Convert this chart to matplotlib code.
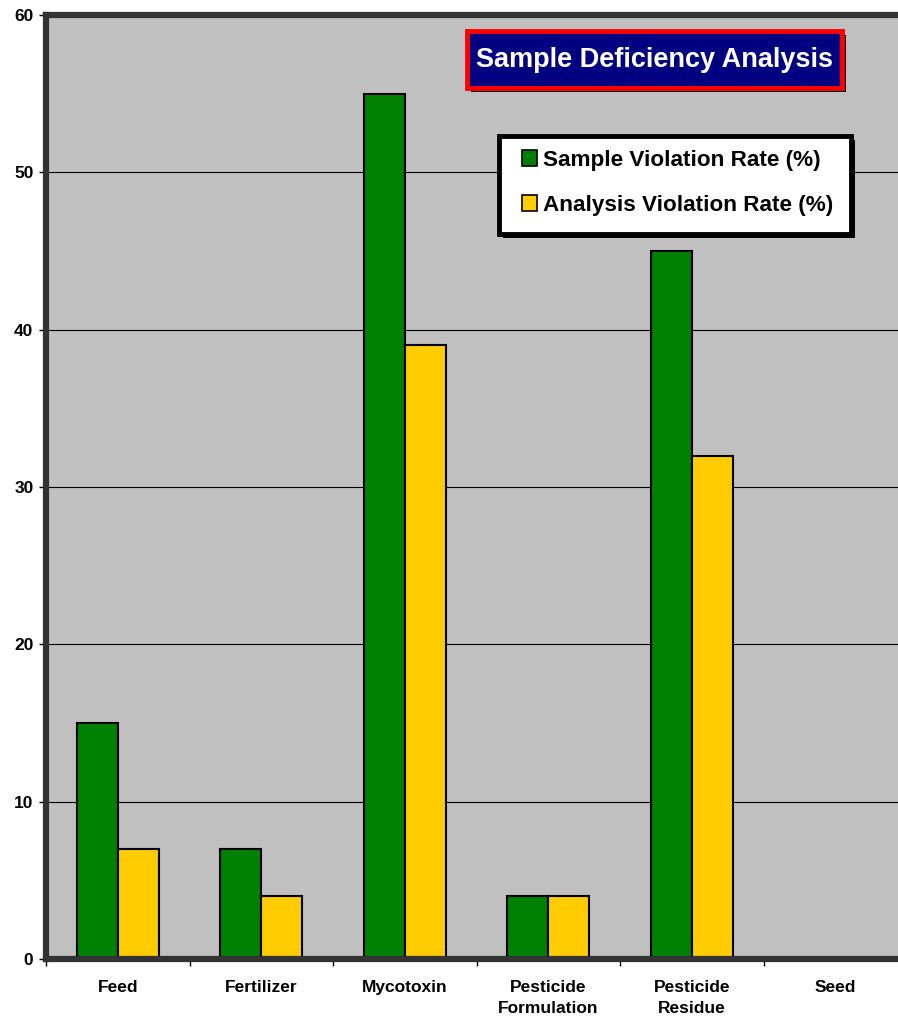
import numpy as np
import matplotlib
matplotlib.use("Agg")
import matplotlib.pyplot as plt
from matplotlib.patches import Rectangle, Patch

plt.rcParams['font.family'] = ['Liberation Sans', 'DejaVu Sans']
plt.rcParams['font.weight'] = 'bold'

categories = ['Feed', 'Fertilizer', 'Mycotoxin', 'Pesticide\nFormulation', 'Pesticide\nResidue', 'Seed']
sample_rate = [15, 7, 55, 4, 45, 0]
analysis_rate = [7, 4, 39, 4, 32, 0]
series_names = ['Sample Violation Rate (%)', 'Analysis Violation Rate (%)']
chart_title = 'Sample Deficiency Analysis'

W, H = 898, 1018
fig = plt.figure(figsize=(W / 100, H / 100), dpi=100)
fig.patch.set_facecolor('white')

# plot area runs a little past the right edge of the picture
ax = fig.add_axes([46 / W, (H - 959) / H, (907 - 46) / W, (959 - 15) / H])
ax.set_facecolor('#c0c0c0')

x = np.arange(len(categories))
bw = 0.285
ax.bar(x - bw / 2, sample_rate, bw, color='#008000', edgecolor='black', linewidth=1.5, zorder=3)
ax.bar(x + bw / 2, analysis_rate, bw, color='#ffcc00', edgecolor='black', linewidth=1.5, zorder=3)

ax.set_xlim(-0.5, len(categories) - 0.5)
ax.set_ylim(0, 60)
ax.set_yticks(np.arange(0, 61, 10))
ax.set_xticks(np.arange(len(categories) + 1) - 0.5)
ax.set_xticklabels([])
ax.set_xticks(x, minor=True)
ax.set_xticklabels(categories, minor=True, fontsize=12.5, fontweight='bold', linespacing=1.55)
ax.tick_params(axis='x', which='minor', length=0, pad=15)
ax.tick_params(axis='x', which='major', length=5, width=1, direction='out')
ax.tick_params(axis='y', length=5, width=1, direction='out', labelsize=12.5, pad=4)
for t in ax.get_yticklabels():
    t.set_fontweight('bold')

ax.yaxis.grid(True, color='black', linewidth=0.8, zorder=1)
ax.set_axisbelow(True)

for s in ['top', 'left', 'bottom']:
    ax.spines[s].set_linewidth(4.5)
    ax.spines[s].set_color('#333333')
    ax.spines[s].set_zorder(4)
ax.spines['right'].set_visible(False)

# title box with shadow
fig.patches.append(Rectangle((471 / W, 1 - 92 / H), 375 / W, 57 / H, transform=fig.transFigure,
                             facecolor='black', edgecolor='none', zorder=5))
fig.patches.append(Rectangle((467 / W, 1 - 88 / H), 375 / W, 57 / H, transform=fig.transFigure,
                             facecolor='#000080', edgecolor='#ff0000', linewidth=3.5, zorder=6))
fig.text(654.5 / W, 1 - 60 / H, chart_title, color='white', fontsize=19.5, fontweight='bold',
         ha='center', va='center', zorder=7)

# legend frame with shadow
fig.patches.append(Rectangle((503 / W, 1 - 238 / H), 352 / W, 98 / H, transform=fig.transFigure,
                             facecolor='black', edgecolor='none', zorder=8))
fig.patches.append(Rectangle((499 / W, 1 - 234 / H), 352 / W, 98 / H, transform=fig.transFigure,
                             facecolor='white', edgecolor='black', linewidth=3.5, zorder=9))

handles = [Patch(facecolor='#008000', edgecolor='black', linewidth=1.2),
           Patch(facecolor='#ffcc00', edgecolor='black', linewidth=1.2)]
leg = fig.legend(handles, series_names, loc='upper left', bbox_to_anchor=(522 / W, 1 - 150 / H),
                 bbox_transform=fig.transFigure, prop={'weight': 'bold', 'size': 16.2},
                 handlelength=0.68, handleheight=0.68, handletextpad=0.25, labelspacing=1.07,
                 borderpad=0, borderaxespad=0, frameon=False)
leg.set_zorder(10)

fig.savefig('out.png', dpi=100)
